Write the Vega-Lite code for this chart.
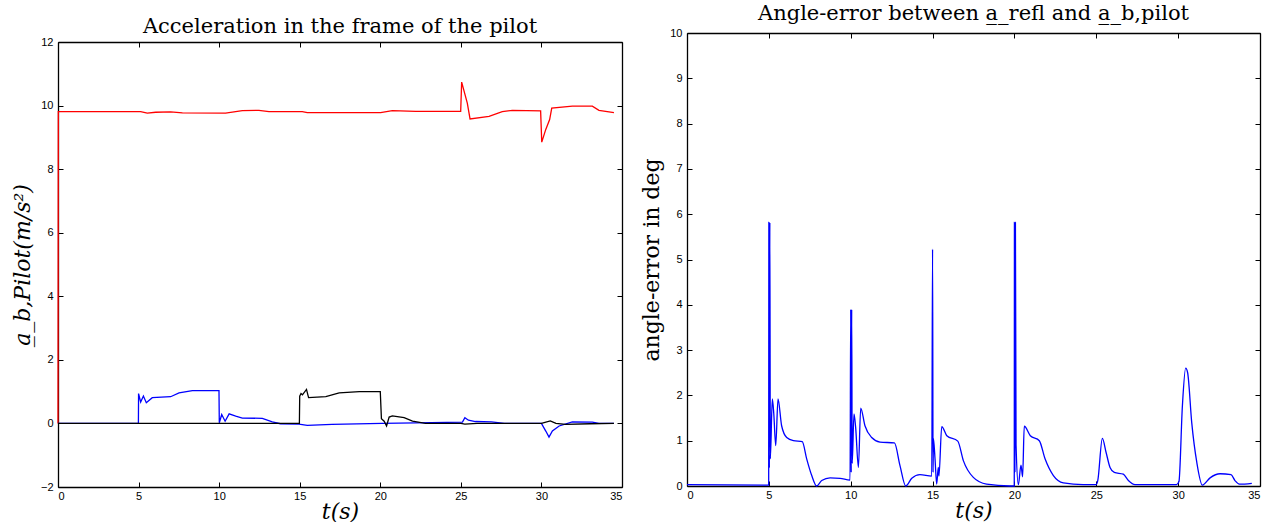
{
  "$schema": "https://vega.github.io/schema/vega-lite/v6.json",
  "background": "white",
  "padding": {"left": 11, "top": 3, "right": 5, "bottom": 0},
  "spacing": 17,
  "config": {
    "view": {"stroke": null},
    "axis": {
      "grid": false,
      "domain": true,
      "domainColor": "black",
      "domainWidth": 1.3,
      "tickSize": -5,
      "tickColor": "black",
      "tickWidth": 1,
      "labelFont": "Liberation Sans",
      "labelFontSize": 11,
      "labelColor": "black",
      "labelPadding": 10,
      "titleFont": "DejaVu Serif",
      "titleFontSize": 22,
      "titleFontWeight": "normal",
      "titleColor": "black"
    },
    "axisX": {"labelPadding": 8},
    "line": {"interpolate": "monotone", "strokeWidth": 1.3},
    "title": {"font": "DejaVu Serif", "fontSize": 21, "fontWeight": "normal", "color": "black", "offset": 3}
  },
  "hconcat": [
    {
      "width": 564,
      "height": 454,
      "title": {"text": "Acceleration in the frame of the pilot", "offset": -4},
      "data": {"values": [
        {"t":0,"v":0,"s":"a"},{"t":0.02,"v":9.81,"s":"a"},{"t":5.13,"v":9.81,"s":"a"},{"t":5.54,"v":9.76,"s":"a"},{"t":6.06,"v":9.79,"s":"a"},{"t":6.99,"v":9.8,"s":"a"},{"t":7.72,"v":9.77,"s":"a"},{"t":10.4,"v":9.76,"s":"a"},{"t":11.44,"v":9.84,"s":"a"},{"t":12.47,"v":9.85,"s":"a"},{"t":13.09,"v":9.81,"s":"a"},{"t":15.16,"v":9.81,"s":"a"},{"t":15.47,"v":9.78,"s":"a"},{"t":20.02,"v":9.78,"s":"a"},{"t":20.75,"v":9.84,"s":"a"},{"t":22.2,"v":9.82,"s":"a"},{"t":24.99,"v":9.82,"s":"a"},{"t":25.05,"v":10.74,"s":"a"},{"t":25.4,"v":10.08,"s":"a"},{"t":25.57,"v":9.58,"s":"a"},{"t":26.75,"v":9.66,"s":"a"},{"t":27.57,"v":9.81,"s":"a"},{"t":28.2,"v":9.85,"s":"a"},{"t":29.95,"v":9.83,"s":"a"},{"t":30.02,"v":8.85,"s":"a"},{"t":30.27,"v":9.25,"s":"a"},{"t":30.51,"v":9.56,"s":"a"},{"t":30.64,"v":9.92,"s":"a"},{"t":31.92,"v":9.98,"s":"a"},{"t":33.16,"v":9.98,"s":"a"},{"t":33.57,"v":9.85,"s":"a"},{"t":34.5,"v":9.78,"s":"a"},
        {"t":0,"v":0,"s":"b"},{"t":4.99,"v":0,"s":"b"},{"t":5.0,"v":0.94,"s":"b"},{"t":5.13,"v":0.67,"s":"b"},{"t":5.3,"v":0.86,"s":"b"},{"t":5.48,"v":0.65,"s":"b"},{"t":5.85,"v":0.81,"s":"b"},{"t":6.99,"v":0.84,"s":"b"},{"t":7.51,"v":0.96,"s":"b"},{"t":8.34,"v":1.03,"s":"b"},{"t":9.99,"v":1.03,"s":"b"},{"t":10.01,"v":0.02,"s":"b"},{"t":10.16,"v":0.28,"s":"b"},{"t":10.37,"v":0.07,"s":"b"},{"t":10.62,"v":0.3,"s":"b"},{"t":11.03,"v":0.23,"s":"b"},{"t":11.44,"v":0.17,"s":"b"},{"t":12.68,"v":0.16,"s":"b"},{"t":13.3,"v":0.05,"s":"b"},{"t":13.8,"v":-0.01,"s":"b"},{"t":14.95,"v":-0.02,"s":"b"},{"t":15.47,"v":-0.06,"s":"b"},{"t":17.0,"v":-0.03,"s":"b"},{"t":20.1,"v":0,"s":"b"},{"t":22.2,"v":0.02,"s":"b"},{"t":25.1,"v":0.04,"s":"b"},{"t":25.25,"v":0.18,"s":"b"},{"t":25.47,"v":0.1,"s":"b"},{"t":25.9,"v":0.06,"s":"b"},{"t":26.9,"v":0.05,"s":"b"},{"t":27.7,"v":0,"s":"b"},{"t":30.0,"v":0,"s":"b"},{"t":30.27,"v":-0.24,"s":"b"},{"t":30.47,"v":-0.43,"s":"b"},{"t":30.68,"v":-0.24,"s":"b"},{"t":31.1,"v":-0.08,"s":"b"},{"t":31.92,"v":0.05,"s":"b"},{"t":33.16,"v":0.04,"s":"b"},{"t":33.57,"v":0,"s":"b"},{"t":34.5,"v":0,"s":"b"},
        {"t":0,"v":0,"s":"c"},{"t":14.98,"v":0,"s":"c"},{"t":15.0,"v":0.86,"s":"c"},{"t":15.08,"v":0.94,"s":"c"},{"t":15.17,"v":0.9,"s":"c"},{"t":15.42,"v":1.07,"s":"c"},{"t":15.55,"v":0.81,"s":"c"},{"t":16.62,"v":0.84,"s":"c"},{"t":17.45,"v":0.96,"s":"c"},{"t":18.7,"v":1.0,"s":"c"},{"t":20.0,"v":1.0,"s":"c"},{"t":20.07,"v":0.15,"s":"c"},{"t":20.24,"v":0.07,"s":"c"},{"t":20.39,"v":-0.08,"s":"c"},{"t":20.55,"v":0.2,"s":"c"},{"t":20.75,"v":0.24,"s":"c"},{"t":21.48,"v":0.18,"s":"c"},{"t":22.0,"v":0.07,"s":"c"},{"t":22.8,"v":0,"s":"c"},{"t":25.0,"v":0,"s":"c"},{"t":25.25,"v":-0.02,"s":"c"},{"t":26.0,"v":0,"s":"c"},{"t":30.0,"v":0,"s":"c"},{"t":30.55,"v":0.08,"s":"c"},{"t":30.9,"v":0,"s":"c"},{"t":31.5,"v":-0.03,"s":"c"},{"t":33.0,"v":-0.01,"s":"c"},{"t":34.5,"v":0,"s":"c"}
      ]},
      "layer": [
        {
          "mark": {"type": "line", "interpolate": "linear"},
          "encoding": {
            "x": {"field": "t", "type": "quantitative", "scale": {"domain": [0, 35], "nice": false}, "axis": {"values": [0,5,10,15,20,25,30,35], "title": "t(s)", "titleFontStyle": "italic", "titlePadding": 0}},
            "y": {"field": "v", "type": "quantitative", "scale": {"domain": [-2, 12], "range": [454, 9], "nice": false}, "axis": {"values": [-2,0,2,4,6,8,10,12], "title": "a̲_b,Pilot(m/s²)", "titleFontStyle": "italic", "titlePadding": 6}},
            "color": {"field": "s", "type": "nominal", "scale": {"domain": ["a","b","c"], "range": ["#ff0000", "#0000ff", "#000000"]}, "legend": null}
          }
        },
        {
          "mark": {"type": "line", "opacity": 0},
          "encoding": {
            "x": {"field": "t", "type": "quantitative", "scale": {"domain": [0, 35], "nice": false}, "axis": {"orient": "top", "offset": -9, "values": [0,5,10,15,20,25,30,35], "labels": false, "title": null}},
            "y": {"field": "v", "type": "quantitative", "scale": {"domain": [-2, 12], "range": [454, 9], "nice": false}, "axis": {"orient": "right", "values": [-2,0,2,4,6,8,10,12], "labels": false, "title": null}}
          }
        }
      ],
      "resolve": {"axis": {"x": "independent", "y": "independent"}}
    },
    {
      "width": 573,
      "height": 453,
      "title": {"text": "Angle-error between a̲_refl and a̲_b,pilot"},
      "data": {"values": [
        {"t":0,"e":0.03},{"t":4.99,"e":0.02},{"t":5.0,"e":5.82},{"t":5.03,"e":0.4},{"t":5.06,"e":5.82},{"t":5.09,"e":0.6},{"t":5.21,"e":1.92},{"t":5.3,"e":1.6},{"t":5.42,"e":0.89},{"t":5.56,"e":1.92},{"t":5.78,"e":1.33},{"t":6.09,"e":1.07},{"t":6.5,"e":1.0},{"t":7.04,"e":0.98},{"t":7.31,"e":0.6},{"t":7.62,"e":0.23},{"t":7.92,"e":0.0},{"t":8.23,"e":0.12},{"t":8.74,"e":0.18},{"t":9.35,"e":0.17},{"t":9.96,"e":0.13},
        {"t":10.0,"e":3.9},{"t":10.03,"e":0.3},{"t":10.06,"e":3.9},{"t":10.09,"e":0.5},{"t":10.2,"e":1.59},{"t":10.3,"e":1.3},{"t":10.47,"e":0.41},{"t":10.61,"e":1.72},{"t":10.87,"e":1.33},{"t":11.28,"e":1.07},{"t":11.79,"e":0.97},{"t":12.67,"e":0.95},{"t":13.01,"e":0.45},{"t":13.36,"e":0.0},{"t":13.73,"e":0.17},{"t":14.23,"e":0.25},{"t":14.95,"e":0.22},
        {"t":15.0,"e":5.23},{"t":15.03,"e":0.3},{"t":15.05,"e":1.05},{"t":15.15,"e":0.6},{"t":15.25,"e":0.04},{"t":15.35,"e":0.41},{"t":15.39,"e":0.22},{"t":15.56,"e":1.31},{"t":15.87,"e":1.11},{"t":16.54,"e":0.99},{"t":16.88,"e":0.56},{"t":17.49,"e":0.19},{"t":18.3,"e":0.04},{"t":19.7,"e":0.0},{"t":19.99,"e":0.0},
        {"t":20.0,"e":5.82},{"t":20.03,"e":0.3},{"t":20.06,"e":5.82},{"t":20.1,"e":0.9},{"t":20.24,"e":0.03},{"t":20.4,"e":0.46},{"t":20.5,"e":0.2},{"t":20.6,"e":1.32},{"t":20.97,"e":1.11},{"t":21.52,"e":1.0},{"t":21.87,"e":0.6},{"t":22.38,"e":0.23},{"t":22.99,"e":0.07},{"t":24.2,"e":0.03},{"t":24.98,"e":0.03},
        {"t":25.09,"e":0.12},{"t":25.37,"e":1.05},{"t":25.6,"e":0.74},{"t":25.84,"e":0.41},{"t":26.1,"e":0.3},{"t":26.65,"e":0.26},{"t":26.96,"e":0.12},{"t":27.37,"e":0.03},{"t":29.9,"e":0.03},
        {"t":30.05,"e":0.1},{"t":30.26,"e":1.77},{"t":30.46,"e":2.6},{"t":30.58,"e":2.5},{"t":30.83,"e":1.4},{"t":31.14,"e":0.52},{"t":31.48,"e":0.02},{"t":31.95,"e":0.18},{"t":32.56,"e":0.27},{"t":33.23,"e":0.25},{"t":33.47,"e":0.12},{"t":33.74,"e":0.04},{"t":34.5,"e":0.06}
      ]},
      "layer": [
        {
          "mark": {"type": "line", "color": "#0000ff"},
          "encoding": {
            "x": {"field": "t", "type": "quantitative", "scale": {"domain": [0, 35], "nice": false}, "axis": {"values": [0,5,10,15,20,25,30,35], "title": "t(s)", "titleFontStyle": "italic", "titlePadding": 0}},
            "y": {"field": "e", "type": "quantitative", "scale": {"domain": [0, 10], "nice": false}, "axis": {"values": [0,1,2,3,4,5,6,7,8,9,10], "title": "angle-error in deg", "titlePadding": 6}}
          }
        },
        {
          "mark": {"type": "line", "opacity": 0},
          "encoding": {
            "x": {"field": "t", "type": "quantitative", "scale": {"domain": [0, 35], "nice": false}, "axis": {"orient": "top", "values": [0,5,10,15,20,25,30,35], "labels": false, "title": null}},
            "y": {"field": "e", "type": "quantitative", "scale": {"domain": [0, 10], "nice": false}, "axis": {"orient": "right", "values": [0,1,2,3,4,5,6,7,8,9,10], "labels": false, "title": null}}
          }
        }
      ],
      "resolve": {"axis": {"x": "independent", "y": "independent"}}
    }
  ]
}
